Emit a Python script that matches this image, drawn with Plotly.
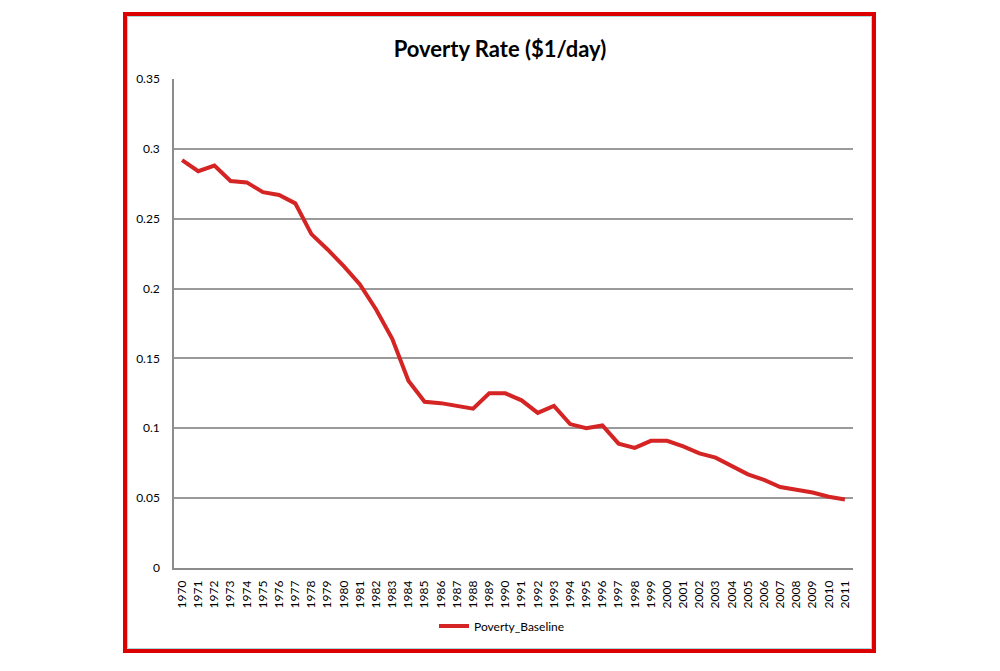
import plotly.graph_objects as go

years = [str(y) for y in range(1970, 2012)]
poverty_baseline = [
    0.292, 0.284, 0.288, 0.277, 0.276, 0.269, 0.267, 0.261, 0.239, 0.228,
    0.216, 0.203, 0.185, 0.164, 0.134, 0.119, 0.118, 0.116, 0.114, 0.125,
    0.125, 0.120, 0.111, 0.116, 0.103, 0.100, 0.102, 0.089, 0.086, 0.091,
    0.091, 0.087, 0.082, 0.079, 0.073, 0.067, 0.063, 0.058, 0.056, 0.054,
    0.051, 0.049,
]
y_tick_vals = [0, 0.05, 0.1, 0.15, 0.2, 0.25, 0.3, 0.35]
y_tick_text = ["0", "0.05", "0.1", "0.15", "0.2", "0.25", "0.3", "0.35"]

FONT = "Lato, 'Open Sans', sans-serif"

# The page body has an 8px margin, so the figure is drawn at (8, 8).
OFF = 8
FW, FH = 1000 - 2 * OFF, 671 - 2 * OFF

# target plot area on the screen: x 174..853, y 79..568
L, R, T, B = 174, 853, 79, 568
W, H = R - L, B - T

def px(x):
    return (x - L) / W

def py(y):
    return (B - y) / H

fig = go.Figure()
fig.add_trace(go.Scatter(
    x=years, y=poverty_baseline, mode="lines", name="Poverty_Baseline",
    line=dict(color="#d42424", width=4),
))

fig.update_layout(
    width=FW, height=FH,
    margin=dict(l=L - OFF, r=FW - (R - OFF), t=T - OFF, b=FH - (B - OFF), pad=0),
    paper_bgcolor="white", plot_bgcolor="white",
    font=dict(family=FONT, size=12, color="#000"),
    title=dict(text="<b>Poverty Rate ($1/day)</b>", x=px(500), xanchor="center",
               xref="paper",
               y=1 - (49 - OFF) / FH, yanchor="middle",
               font=dict(family=FONT, size=22, color="#000")),
    showlegend=True,
    legend=dict(orientation="h", x=px(502), xanchor="center", y=py(626), yanchor="middle",
                font=dict(family=FONT, size=12), bgcolor="rgba(0,0,0,0)",
                itemwidth=30),
    xaxis=dict(type="category", tickangle=-90, showgrid=False,
               showline=True, linecolor="#8c8c8c", linewidth=1.5,
               ticks="", ticklabelstandoff=6,
               range=[-0.5, len(years) - 0.5], fixedrange=True,
               tickfont=dict(family=FONT, size=12)),
    yaxis=dict(range=[0, 0.35], tickvals=y_tick_vals, ticktext=y_tick_text,
               showgrid=True, gridcolor="#9a9a9a", gridwidth=1.5,
               showline=True, linecolor="#8c8c8c", linewidth=1.5,
               zeroline=False, ticks="", ticklabelstandoff=10,
               tickfont=dict(family=FONT, size=12)),
    shapes=[
        dict(type="rect", xref="paper", yref="paper",
             x0=px(127.5), x1=px(871.5), y0=py(648.5), y1=py(16.5),
             line=dict(color="#a8d8e0", width=1)),
        dict(type="rect", xref="paper", yref="paper",
             x0=px(125), x1=px(874), y0=py(651), y1=py(14),
             line=dict(color="#dd0000", width=4)),
    ],
)

fig.write_html("out.html")
